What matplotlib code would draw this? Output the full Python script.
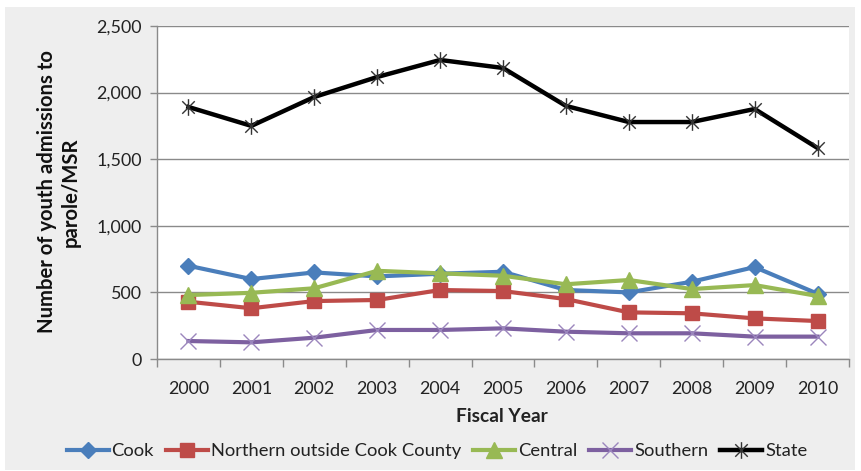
import matplotlib
matplotlib.use("Agg")
import matplotlib.pyplot as plt
from matplotlib.patches import Rectangle
from matplotlib.path import Path
from matplotlib.ticker import FuncFormatter, MultipleLocator, FixedLocator

plt.rcParams['font.family'] = ['Lato', 'DejaVu Sans']

years = ["2000", "2001", "2002", "2003", "2004", "2005",
         "2006", "2007", "2008", "2009", "2010"]
cook = [700, 600, 650, 620, 640, 655, 518, 500, 580, 690, 490]
northern = [430, 381, 435, 443, 518, 510, 450, 350, 343, 305, 285]
central = [480, 497, 531, 662, 643, 625, 561, 593, 525, 555, 473]
southern = [135, 125, 160, 218, 218, 230, 205, 193, 193, 168, 168]
state = [1892, 1750, 1967, 2117, 2245, 2185, 1900, 1779, 1779, 1877, 1584]

series_names = ["Cook", "Northern outside Cook County", "Central", "Southern", "State"]

# Six-spoke star marker: vertical bar plus two diagonals
star = Path([(0, -1), (0, 1), (-0.75, -0.75), (0.75, 0.75), (-0.75, 0.75), (0.75, -0.75)],
            [Path.MOVETO, Path.LINETO, Path.MOVETO, Path.LINETO, Path.MOVETO, Path.LINETO])

styles = [
    dict(color="#4a7ebb", marker="D", ms=8, lw=3.0, mec="#4a7ebb"),
    dict(color="#be4b48", marker="s", ms=10, lw=3.0, mec="#be4b48"),
    dict(color="#98b954", marker="^", ms=11, lw=3.0, mec="#98b954"),
    dict(color="#7d60a0", marker="x", ms=11, lw=3.0, mew=1.0, mec="#9b86bd"),
    dict(color="#000000", marker=star, ms=12, lw=3.2, mew=1.0, mec="#333333"),
]

fig = plt.figure(figsize=(8.61, 4.71), dpi=100, facecolor="white")
fig.patches.append(Rectangle((5 / 861, 1 - 470 / 471), 850 / 861, 463 / 471,
                             transform=fig.transFigure, facecolor="#eeeeee",
                             edgecolor="none", zorder=-5))

ax = fig.add_axes([157 / 861, 1 - 359 / 471, 692 / 861, 333 / 471])
ax.set_zorder(2)
ax.set_facecolor("white")

x = list(range(len(years)))
for name, vals, st in zip(series_names, [cook, northern, central, southern, state], styles):
    ax.plot(x, vals, label=name, solid_joinstyle="round", **st, zorder=3)

ax.set_xlim(-0.5, len(years) - 0.5)
ax.set_ylim(0, 2500)
ax.yaxis.set_major_locator(MultipleLocator(500))
ax.yaxis.set_major_formatter(FuncFormatter(lambda v, p: f"{int(v):,}"))
ax.grid(axis="y", color="#8a8a8a", lw=1.0, zorder=1)
ax.set_axisbelow(True)

ax.set_xticks(x)
ax.set_xticklabels(years)
ax.xaxis.set_minor_locator(FixedLocator([i - 0.5 for i in range(len(years) + 1)]))
ax.tick_params(axis="x", which="major", length=0, pad=16, labelsize=12.9, labelcolor="#222222")
ax.tick_params(axis="x", which="minor", length=6, width=1.0, color="#8a8a8a")
ax.tick_params(axis="y", length=5, width=1.0, color="#8a8a8a", pad=6,
               labelsize=12.9, labelcolor="#222222")

for s in ["top", "right"]:
    ax.spines[s].set_visible(False)
for s in ["left", "bottom"]:
    ax.spines[s].set_color("#8a8a8a")
    ax.spines[s].set_linewidth(1.0)

fig.text(59 / 861, 1 - 192 / 471, "Number of youth admissions to\nparole/MSR",
         rotation=90, ha="center", va="center", multialignment="center",
         fontsize=14.6, fontweight="bold", color="#111111", linespacing=1.2)
fig.text(502 / 861, 1 - 417 / 471, "Fiscal Year", ha="center", va="center",
         fontsize=13.8, fontweight="bold", color="#222222")

leg = fig.legend(loc="center", bbox_to_anchor=(437 / 861, 1 - 451 / 471), ncol=5,
                 frameon=False, fontsize=13.2, handlelength=2.3, handletextpad=0.15,
                 columnspacing=0.65, borderpad=0)
for t in leg.get_texts():
    t.set_color("#222222")

fig.savefig("out.png", dpi=100, facecolor="white")
